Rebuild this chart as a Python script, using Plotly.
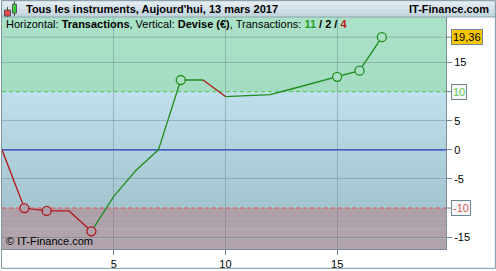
import plotly.graph_objects as go

# ---- data ----
transactions = list(range(18))
devise = [0, -10, -10.5, -10.5, -14, -8, -3.5, 0, 12, 12, 9.15, 9.3, 9.5, 10.5, 11.5, 12.55, 13.6, 19.36]
marker_idx = [1, 2, 4, 8, 15, 16, 17]
x_ticks = [5, 10, 15]
y_ticks = [15, 5, 0, -5, -15]
upper_level = 10
lower_level = -10
last_label = "19,36"

GREEN = "#1f8f1f"
RED = "#b01818"
FONT = "Arial, Liberation Sans, sans-serif"
GRID = "rgba(90,110,120,0.35)"

W, H = 496, 271
ML, MR, MT, MB = 1, 50, 17, 20
PW = W - ML - MR
PH = H - MT - MB
XR = [0, 19.87]
YR = [-17.04, 22.83]


def px(xp):
    return (xp - ML) / PW


def py(yp):
    return (H - MB - yp) / PH


fig = go.Figure()

# segment colours: up = green, down = red, flat keeps previous colour
colors = []
prev = RED
for i in range(1, len(devise)):
    d = devise[i] - devise[i - 1]
    c = GREEN if d > 0 else (RED if d < 0 else prev)
    colors.append(c)
    prev = c

start = 0
for i in range(1, len(colors) + 1):
    if i == len(colors) or colors[i] != colors[start]:
        fig.add_trace(go.Scatter(x=transactions[start:i + 1], y=devise[start:i + 1], mode="lines",
                                 line=dict(color=colors[start], width=1.3),
                                 hoverinfo="skip", showlegend=False))
        start = i


def zone_fill(v):
    if v > upper_level:
        return "#a8e0c5"
    if v <= lower_level:
        return "#b0a2ab"
    return "#b4d4df"


mk_colors = [colors[i - 1] for i in marker_idx]
mk_fill = [zone_fill(devise[i]) for i in marker_idx]
fig.add_trace(go.Scatter(x=[transactions[i] for i in marker_idx],
                         y=[devise[i] for i in marker_idx],
                         mode="markers",
                         marker=dict(symbol="circle", size=9, color=mk_fill,
                                     line=dict(width=1.3, color=mk_colors)),
                         hoverinfo="skip", showlegend=False))

shapes = []


def lerp(c1, c2, t):
    a = [int(c1[i:i + 2], 16) for i in (1, 3, 5)]
    b = [int(c2[i:i + 2], 16) for i in (1, 3, 5)]
    return "#%02x%02x%02x" % tuple(round(a[k] + (b[k] - a[k]) * t) for k in range(3))


def band(y0, y1, c_top, c_bot, n):
    for k in range(n):
        ya = y1 - (y1 - y0) * k / n
        yb = y1 - (y1 - y0) * (k + 1) / n
        shapes.append(dict(type="rect", xref="paper", yref="y", x0=0, x1=1,
                           y0=yb, y1=ya, fillcolor=lerp(c_top, c_bot, (k + 0.5) / n),
                           line=dict(width=0), layer="below"))


band(upper_level, YR[1], "#abe2c8", "#a3dcc0", 6)
band(lower_level, upper_level, "#bfe0ec", "#a3c4cf", 24)
band(YR[0], lower_level, "#ad9ea8", "#b3a5ae", 4)

# grid line at last value
shapes.append(dict(type="line", xref="paper", yref="y", x0=0, x1=1, y0=devise[-1], y1=devise[-1],
                   line=dict(color=GRID, width=1), layer="below"))
# dashed level lines
shapes.append(dict(type="line", xref="paper", yref="y", x0=0, x1=1, y0=upper_level, y1=upper_level,
                   line=dict(color="#4cc84c", width=1, dash="4px,3px"), layer="below"))
shapes.append(dict(type="line", xref="paper", yref="y", x0=0, x1=1, y0=lower_level, y1=lower_level,
                   line=dict(color="#ea5050", width=1, dash="4px,3px"), layer="below"))
# zero line
shapes.append(dict(type="line", xref="paper", yref="y", x0=0, x1=1, y0=0, y1=0,
                   line=dict(color="#1a30d0", width=1.2), layer="below"))
# tick marks for boxed labels
for v in (upper_level, lower_level, devise[-1]):
    shapes.append(dict(type="line", xref="paper", yref="y", x0=1, x1=px(451), y0=v, y1=v,
                       line=dict(color="#6f848e", width=1)))

# title bar
for k in range(4):
    shapes.append(dict(type="rect", xref="paper", yref="paper",
                       x0=px(0), x1=px(W), y0=py(17 * k / 4), y1=py(17 * (k + 1) / 4),
                       fillcolor=lerp("#e2ebf0", "#c3d5df", k / 3), line=dict(width=0)))
shapes.append(dict(type="line", xref="paper", yref="paper", x0=px(0), x1=px(W),
                   y0=py(17), y1=py(17), line=dict(color="#8ea3ad", width=1)))
# icon candles
shapes.append(dict(type="line", xref="paper", yref="paper", x0=px(6.5), x1=px(6.5),
                   y0=py(7), y1=py(17), line=dict(color="#444444", width=1)))
shapes.append(dict(type="rect", xref="paper", yref="paper", x0=px(3.5), x1=px(9.5),
                   y0=py(10), y1=py(16), fillcolor="#e84a4a", line=dict(color="#555555", width=1)))
shapes.append(dict(type="line", xref="paper", yref="paper", x0=px(13.5), x1=px(13.5),
                   y0=py(1), y1=py(16), line=dict(color="#444444", width=1)))
shapes.append(dict(type="rect", xref="paper", yref="paper", x0=px(11.5), x1=px(15.5),
                   y0=py(4), y1=py(13), fillcolor="#3ccf3c", line=dict(color="#555555", width=1)))
# outer border
shapes.append(dict(type="rect", xref="paper", yref="paper", x0=px(0.5), x1=px(W - 0.5),
                   y0=py(0.5), y1=py(H - 0.5), line=dict(color="#7d96a3", width=1)))

annotations = [
    dict(text="<b>Tous les instruments, Aujourd'hui, 13 mars 2017</b>", xref="paper", yref="paper",
         x=px(23), y=py(8.5), xanchor="left", yanchor="middle", showarrow=False,
         font=dict(family=FONT, size=11, color="#000000")),
    dict(text="<b>IT-Finance.com</b>", xref="paper", yref="paper",
         x=px(491), y=py(8.5), xanchor="right", yanchor="middle", showarrow=False,
         font=dict(family=FONT, size=11, color="#000000")),
    dict(text="Horizontal: <b>Transactions</b>, Vertical: <b>Devise (€)</b>, Transactions: "
              "<b><span style='color:#22a022'>11</span> / 2 / <span style='color:#c01818'>4</span></b>",
         xref="paper", yref="paper", x=px(3), y=py(24.5), xanchor="left", yanchor="middle",
         showarrow=False, font=dict(family=FONT, size=11, color="#000000")),
    dict(text="© IT-Finance.com", xref="paper", yref="paper", x=px(3), y=py(243),
         xanchor="left", yanchor="middle", showarrow=False,
         font=dict(family=FONT, size=11, color="#000000")),
    dict(text=last_label, xref="paper", yref="y", x=px(451), y=devise[-1], xanchor="left",
         yanchor="middle", showarrow=False, bgcolor="#f6c700", bordercolor="#6f848e",
         borderwidth=1, borderpad=1, font=dict(family=FONT, size=11, color="#000000")),
    dict(text=str(upper_level), xref="paper", yref="y", x=px(451), y=upper_level, xanchor="left",
         yanchor="middle", showarrow=False, bgcolor="#f2f6f6", bordercolor="#6f848e",
         borderwidth=1, borderpad=1, font=dict(family=FONT, size=11, color="#5cc85c")),
    dict(text=str(lower_level), xref="paper", yref="y", x=px(451), y=lower_level, xanchor="left",
         yanchor="middle", showarrow=False, bgcolor="#f2f6f6", bordercolor="#6f848e",
         borderwidth=1, borderpad=1, font=dict(family=FONT, size=11, color="#e05a5a")),
]

fig.update_layout(
    width=W, height=H,
    margin=dict(l=ML, r=MR, t=MT, b=MB, pad=0),
    paper_bgcolor="#ffffff", plot_bgcolor="#b8d6e2",
    shapes=shapes, annotations=annotations,
    xaxis=dict(range=XR, tickvals=x_ticks, ticktext=[str(v) for v in x_ticks],
               ticks="outside", ticklen=5, tickcolor="#6f848e",
               showgrid=True, gridcolor=GRID, gridwidth=1,
               zeroline=False, showline=True, linecolor="#7b8f99", mirror=True,
               tickfont=dict(family=FONT, size=11, color="#000000")),
    yaxis=dict(range=YR, side="right", tickvals=y_ticks, ticktext=[str(v) for v in y_ticks],
               ticks="outside", ticklen=5, tickcolor="#6f848e",
               showgrid=True, gridcolor=GRID, gridwidth=1,
               zeroline=False,
               showline=True, linecolor="#7b8f99", mirror=True,
               tickfont=dict(family=FONT, size=11, color="#000000")),
)

fig.write_html("out.html")
